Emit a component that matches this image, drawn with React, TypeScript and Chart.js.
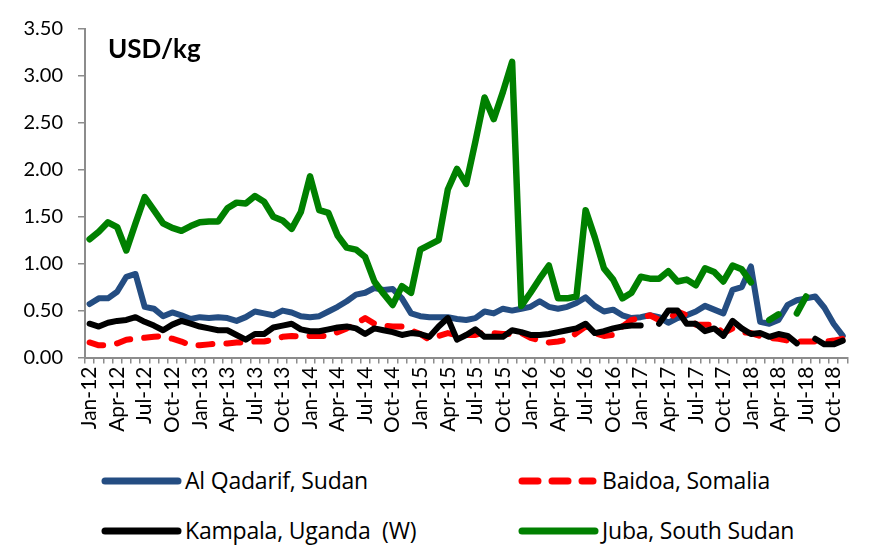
import React, { useEffect, useRef } from 'react';
import { Chart, registerables } from 'chart.js';
Chart.register(...registerables);

const months = [
  'Jan-12','Feb-12','Mar-12','Apr-12','May-12','Jun-12','Jul-12','Aug-12','Sep-12','Oct-12','Nov-12','Dec-12',
  'Jan-13','Feb-13','Mar-13','Apr-13','May-13','Jun-13','Jul-13','Aug-13','Sep-13','Oct-13','Nov-13','Dec-13',
  'Jan-14','Feb-14','Mar-14','Apr-14','May-14','Jun-14','Jul-14','Aug-14','Sep-14','Oct-14','Nov-14','Dec-14',
  'Jan-15','Feb-15','Mar-15','Apr-15','May-15','Jun-15','Jul-15','Aug-15','Sep-15','Oct-15','Nov-15','Dec-15',
  'Jan-16','Feb-16','Mar-16','Apr-16','May-16','Jun-16','Jul-16','Aug-16','Sep-16','Oct-16','Nov-16','Dec-16',
  'Jan-17','Feb-17','Mar-17','Apr-17','May-17','Jun-17','Jul-17','Aug-17','Sep-17','Oct-17','Nov-17','Dec-17',
  'Jan-18','Feb-18','Mar-18','Apr-18','May-18','Jun-18','Jul-18','Aug-18','Sep-18','Oct-18','Nov-18'
];

const alQadarif = [
  0.57,0.63,0.63,0.70,0.86,0.89,0.54,0.52,0.44,0.48,0.45,0.41,
  0.43,0.42,0.43,0.42,0.39,0.43,0.49,0.47,0.45,0.50,0.48,0.44,
  0.43,0.44,0.49,0.54,0.60,0.67,0.69,0.74,0.72,0.73,0.63,0.47,
  0.44,0.43,0.43,0.43,0.41,0.40,0.42,0.49,0.47,0.52,0.50,0.52,
  0.54,0.60,0.54,0.52,0.54,0.58,0.64,0.55,0.49,0.51,0.45,0.42,
  0.43,0.45,0.43,0.37,0.42,0.45,0.49,0.55,0.51,0.47,0.72,0.75,
  0.97,0.38,0.36,0.40,0.56,0.61,0.63,0.65,0.53,0.36,0.23
];

const baidoa = [
  0.16,0.13,0.13,0.15,0.19,0.20,0.21,0.22,0.23,0.20,0.17,0.13,
  0.13,0.14,0.15,0.15,0.16,0.16,0.17,0.17,0.19,0.22,0.23,0.22,
  0.23,0.23,0.23,0.27,0.31,0.36,0.42,0.36,0.34,0.33,0.33,0.29,
  0.25,0.19,0.23,0.26,0.24,0.24,0.24,0.27,0.26,0.25,0.25,0.26,
  0.21,0.18,0.16,0.17,0.19,0.26,0.33,0.26,0.23,0.24,0.33,0.40,
  0.42,0.45,0.40,0.40,0.49,0.45,0.35,0.35,0.35,0.26,0.31,0.27,
  0.26,0.23,0.21,0.20,0.18,0.17,0.17,0.17,0.17,0.18,0.20
];

const kampala = [
  0.36,0.33,0.37,0.39,0.40,0.43,0.38,0.34,0.29,0.35,0.39,0.36,
  0.33,0.31,0.29,0.29,0.24,0.19,0.25,0.25,0.32,0.34,0.36,0.30,
  0.28,0.28,0.30,0.32,0.33,0.31,0.25,0.31,0.29,0.27,0.24,0.26,
  0.25,0.22,0.33,0.42,0.19,0.24,0.30,0.22,0.22,0.22,0.29,0.27,
  0.24,0.24,0.25,0.27,0.29,0.31,0.36,0.26,0.28,0.31,0.33,0.34,
  0.34,null,0.36,0.50,0.50,0.36,0.36,0.28,0.31,0.23,0.39,0.31,
  0.25,0.26,0.22,0.25,0.23,0.15,null,0.20,0.14,0.14,0.18
];

const juba = [
  1.26,1.34,1.44,1.39,1.14,1.43,1.71,1.57,1.43,1.38,1.35,1.40,
  1.44,1.45,1.45,1.59,1.65,1.64,1.72,1.66,1.50,1.46,1.37,1.55,
  1.93,1.57,1.54,1.30,1.17,1.15,1.07,0.81,0.68,0.56,0.76,0.69,
  1.15,1.20,1.25,1.79,2.01,1.85,2.30,2.77,2.54,2.83,3.15,0.55,
  0.69,0.84,0.98,0.63,0.63,0.65,1.57,1.28,0.95,0.83,0.63,0.69,
  0.86,0.84,0.84,0.92,0.81,0.83,0.77,0.95,0.91,0.81,0.98,0.94,
  0.80,null,0.40,0.46,null,0.47,0.65,null,null,null,null
];

const seriesNames = ['Al Qadarif, Sudan', 'Baidoa, Somalia', 'Kampala, Uganda  (W)', 'Juba, South Sudan'];
const seriesColors = ['#244D82', '#FF0000', '#000000', '#008000'];
const yTicks = [0, 0.5, 1, 1.5, 2, 2.5, 3, 3.5];
const unitLabel = 'USD/kg';

const W = 871;
const H = 440;
const FONT = 'Lato, "Open Sans", sans-serif';
const LEGEND_FONT = '"Open Sans", Lato, sans-serif';

export default function App() {
  const ref = useRef<HTMLCanvasElement>(null);

  useEffect(() => {
    document.body.style.margin = '0';
    const titlePlugin = {
      id: 'unitTitle',
      afterDraw(chart: any) {
        const ctx = chart.ctx;
        ctx.save();
        ctx.font = 'bold 26px ' + FONT;
        ctx.fillStyle = '#000';
        ctx.textBaseline = 'alphabetic';
        ctx.fillText(unitLabel, chart.chartArea.left + 23, 58);
        ctx.restore();
      },
    };
    const common = { pointRadius: 0, borderWidth: 6, tension: 0, borderCapStyle: 'round', borderJoinStyle: 'round', spanGaps: false, fill: false };
    const chart = new Chart(ref.current!, {
      type: 'line',
      data: {
        labels: months,
        datasets: [
          { ...common, label: seriesNames[0], data: alQadarif, borderColor: seriesColors[0], order: 4 },
          { ...common, label: seriesNames[1], data: baidoa, borderColor: seriesColors[1], borderDash: [14, 14], order: 3 },
          { ...common, label: seriesNames[2], data: kampala, borderColor: seriesColors[2], order: 2 },
          { ...common, label: seriesNames[3], data: juba, borderColor: seriesColors[3], borderWidth: 6.5, order: 1 },
        ] as any,
      },
      options: {
        responsive: false,
        animation: false,
        devicePixelRatio: 1,
        layout: { padding: { top: 29, right: 2, left: 0, bottom: 0 } },
        plugins: { legend: { display: false }, tooltip: { enabled: false } },
        scales: {
          x: {
            type: 'category',
            offset: true,
            grid: { display: true, drawOnChartArea: false, drawTicks: true, tickLength: 6, color: '#8c8c8c', offset: true, lineWidth: 1.5 },
            border: { display: true, color: '#8c8c8c', width: 2 },
            ticks: {
              autoSkip: false,
              maxRotation: 90,
              minRotation: 90,
              padding: 3,
              color: '#000',
              font: { family: FONT, size: 21 },
              callback: (_v: any, i: number) => (i % 3 === 0 ? months[i] : ''),
            },
            afterFit: (s: any) => { s.height = H - 357.5; },
          },
          y: {
            min: 0,
            max: 3.5,
            afterBuildTicks: (s: any) => { s.ticks = yTicks.map((v) => ({ value: v })); },
            grid: { display: true, drawOnChartArea: false, drawTicks: true, tickLength: 7, color: '#8c8c8c', lineWidth: 1.5 },
            border: { display: true, color: '#8c8c8c', width: 2 },
            ticks: {
              padding: 15,
              color: '#000',
              font: { family: FONT, size: 20 },
              callback: (v: any) => Number(v).toFixed(2),
            },
            afterFit: (s: any) => { s.width = 85; },
          },
        },
      } as any,
      plugins: [titlePlugin],
    });
    return () => chart.destroy();
  }, []);

  const legendText: React.CSSProperties = {
    position: 'absolute',
    fontFamily: LEGEND_FONT,
    fontSize: 23,
    color: '#000',
    whiteSpace: 'pre',
    lineHeight: '30px',
    letterSpacing: '-0.2px',
  };
  const rows = [
    { y: 481, items: [0, 1] },
    { y: 531, items: [2, 3] },
  ];
  const colX = [105, 522];

  return (
    <div style={{ position: 'relative', width: W, height: 545, background: '#fff' }}>
      <canvas ref={ref} width={W} height={H} style={{ display: 'block', width: W, height: H }} />
      {rows.map((r) =>
        r.items.map((idx, c) => (
          <React.Fragment key={idx}>
            <svg style={{ position: 'absolute', left: colX[c] - 4, top: r.y - 6 }} width={84} height={12}>
              <line
                x1={4}
                y1={6}
                x2={idx === 1 ? 75 : 77}
                y2={6}
                stroke={seriesColors[idx]}
                strokeWidth={7}
                strokeLinecap="round"
                strokeDasharray={idx === 1 ? '16 14' : undefined}
              />
            </svg>
            <div style={{ ...legendText, left: colX[c] + 80, top: r.y - 16 }}>{seriesNames[idx]}</div>
          </React.Fragment>
        ))
      )}
    </div>
  );
}
